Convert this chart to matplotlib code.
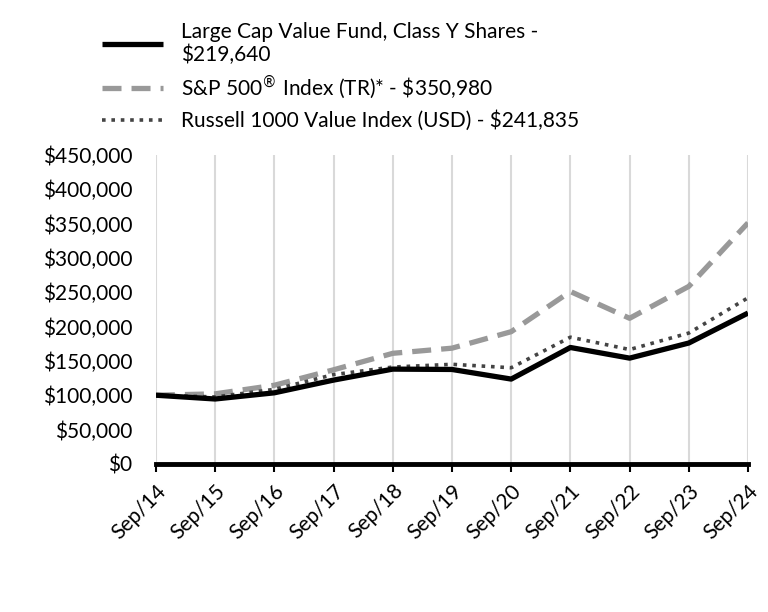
import matplotlib
matplotlib.use("Agg")
import matplotlib.pyplot as plt

plt.rcParams['font.family'] = ['Lato', 'DejaVu Sans']

years = ["Sep/14", "Sep/15", "Sep/16", "Sep/17", "Sep/18", "Sep/19",
         "Sep/20", "Sep/21", "Sep/22", "Sep/23", "Sep/24"]
fund = [100000, 94500, 103500, 122000, 138000, 137500, 123500, 169500, 154000, 176000, 219640]
sp500 = [100000, 102000, 114500, 137000, 161000, 168500, 192500, 251000, 212000, 258500, 350980]
russell = [100000, 97500, 108500, 130000, 141000, 145000, 140000, 184500, 166500, 190500, 241835]

labels = ["Large Cap Value Fund, Class Y Shares -\n$219,640",
          r"S&P 500$^{®}$ Index (TR)* - \$350,980",
          "Russell 1000 Value Index (USD) - $241,835"]

fig = plt.figure(figsize=(7.68, 6.12), dpi=100)
ax = fig.add_axes([0.203, 0.242, 0.771, 0.505])

x = range(len(years))
ax.plot(x, fund, color="black", lw=3.8, solid_capstyle="butt", label=labels[0], zorder=4)
ax.plot(x, sp500, color="#999999", lw=3.8, dashes=(3.6, 1.9), label=labels[1], zorder=3)
ax.plot(x, russell, color="#444444", lw=2.6, dashes=(1, 1.6), label=labels[2], zorder=3)

ax.set_xlim(0, len(years) - 1)
ax.set_ylim(0, 450000)
ax.set_yticks(range(0, 450001, 50000))
ax.set_yticklabels(["${:,}".format(v) for v in range(0, 450001, 50000)], fontsize=15)
ax.set_xticks(list(x))
ax.set_xticklabels(years, rotation=45, ha="right", rotation_mode="anchor", fontsize=15)
ax.tick_params(axis="y", length=0, pad=17)
ax.tick_params(axis="x", length=6, width=1.5, color="black", pad=6)
ax.grid(axis="x", color="#d9d9d9", lw=1.5)
ax.set_axisbelow(True)
for s in ["left", "right", "top"]:
    ax.spines[s].set_visible(False)
ax.spines["bottom"].set_linewidth(3.5)
ax.spines["bottom"].set_zorder(5)

handles, lbls = ax.get_legend_handles_labels()
fig.legend(handles, lbls, loc="upper left", bbox_to_anchor=(0.109, 0.995),
           frameon=False, fontsize=15, handlelength=2.9, handletextpad=0.85,
           labelspacing=0.4)

fig.savefig("out.png", dpi=100)
